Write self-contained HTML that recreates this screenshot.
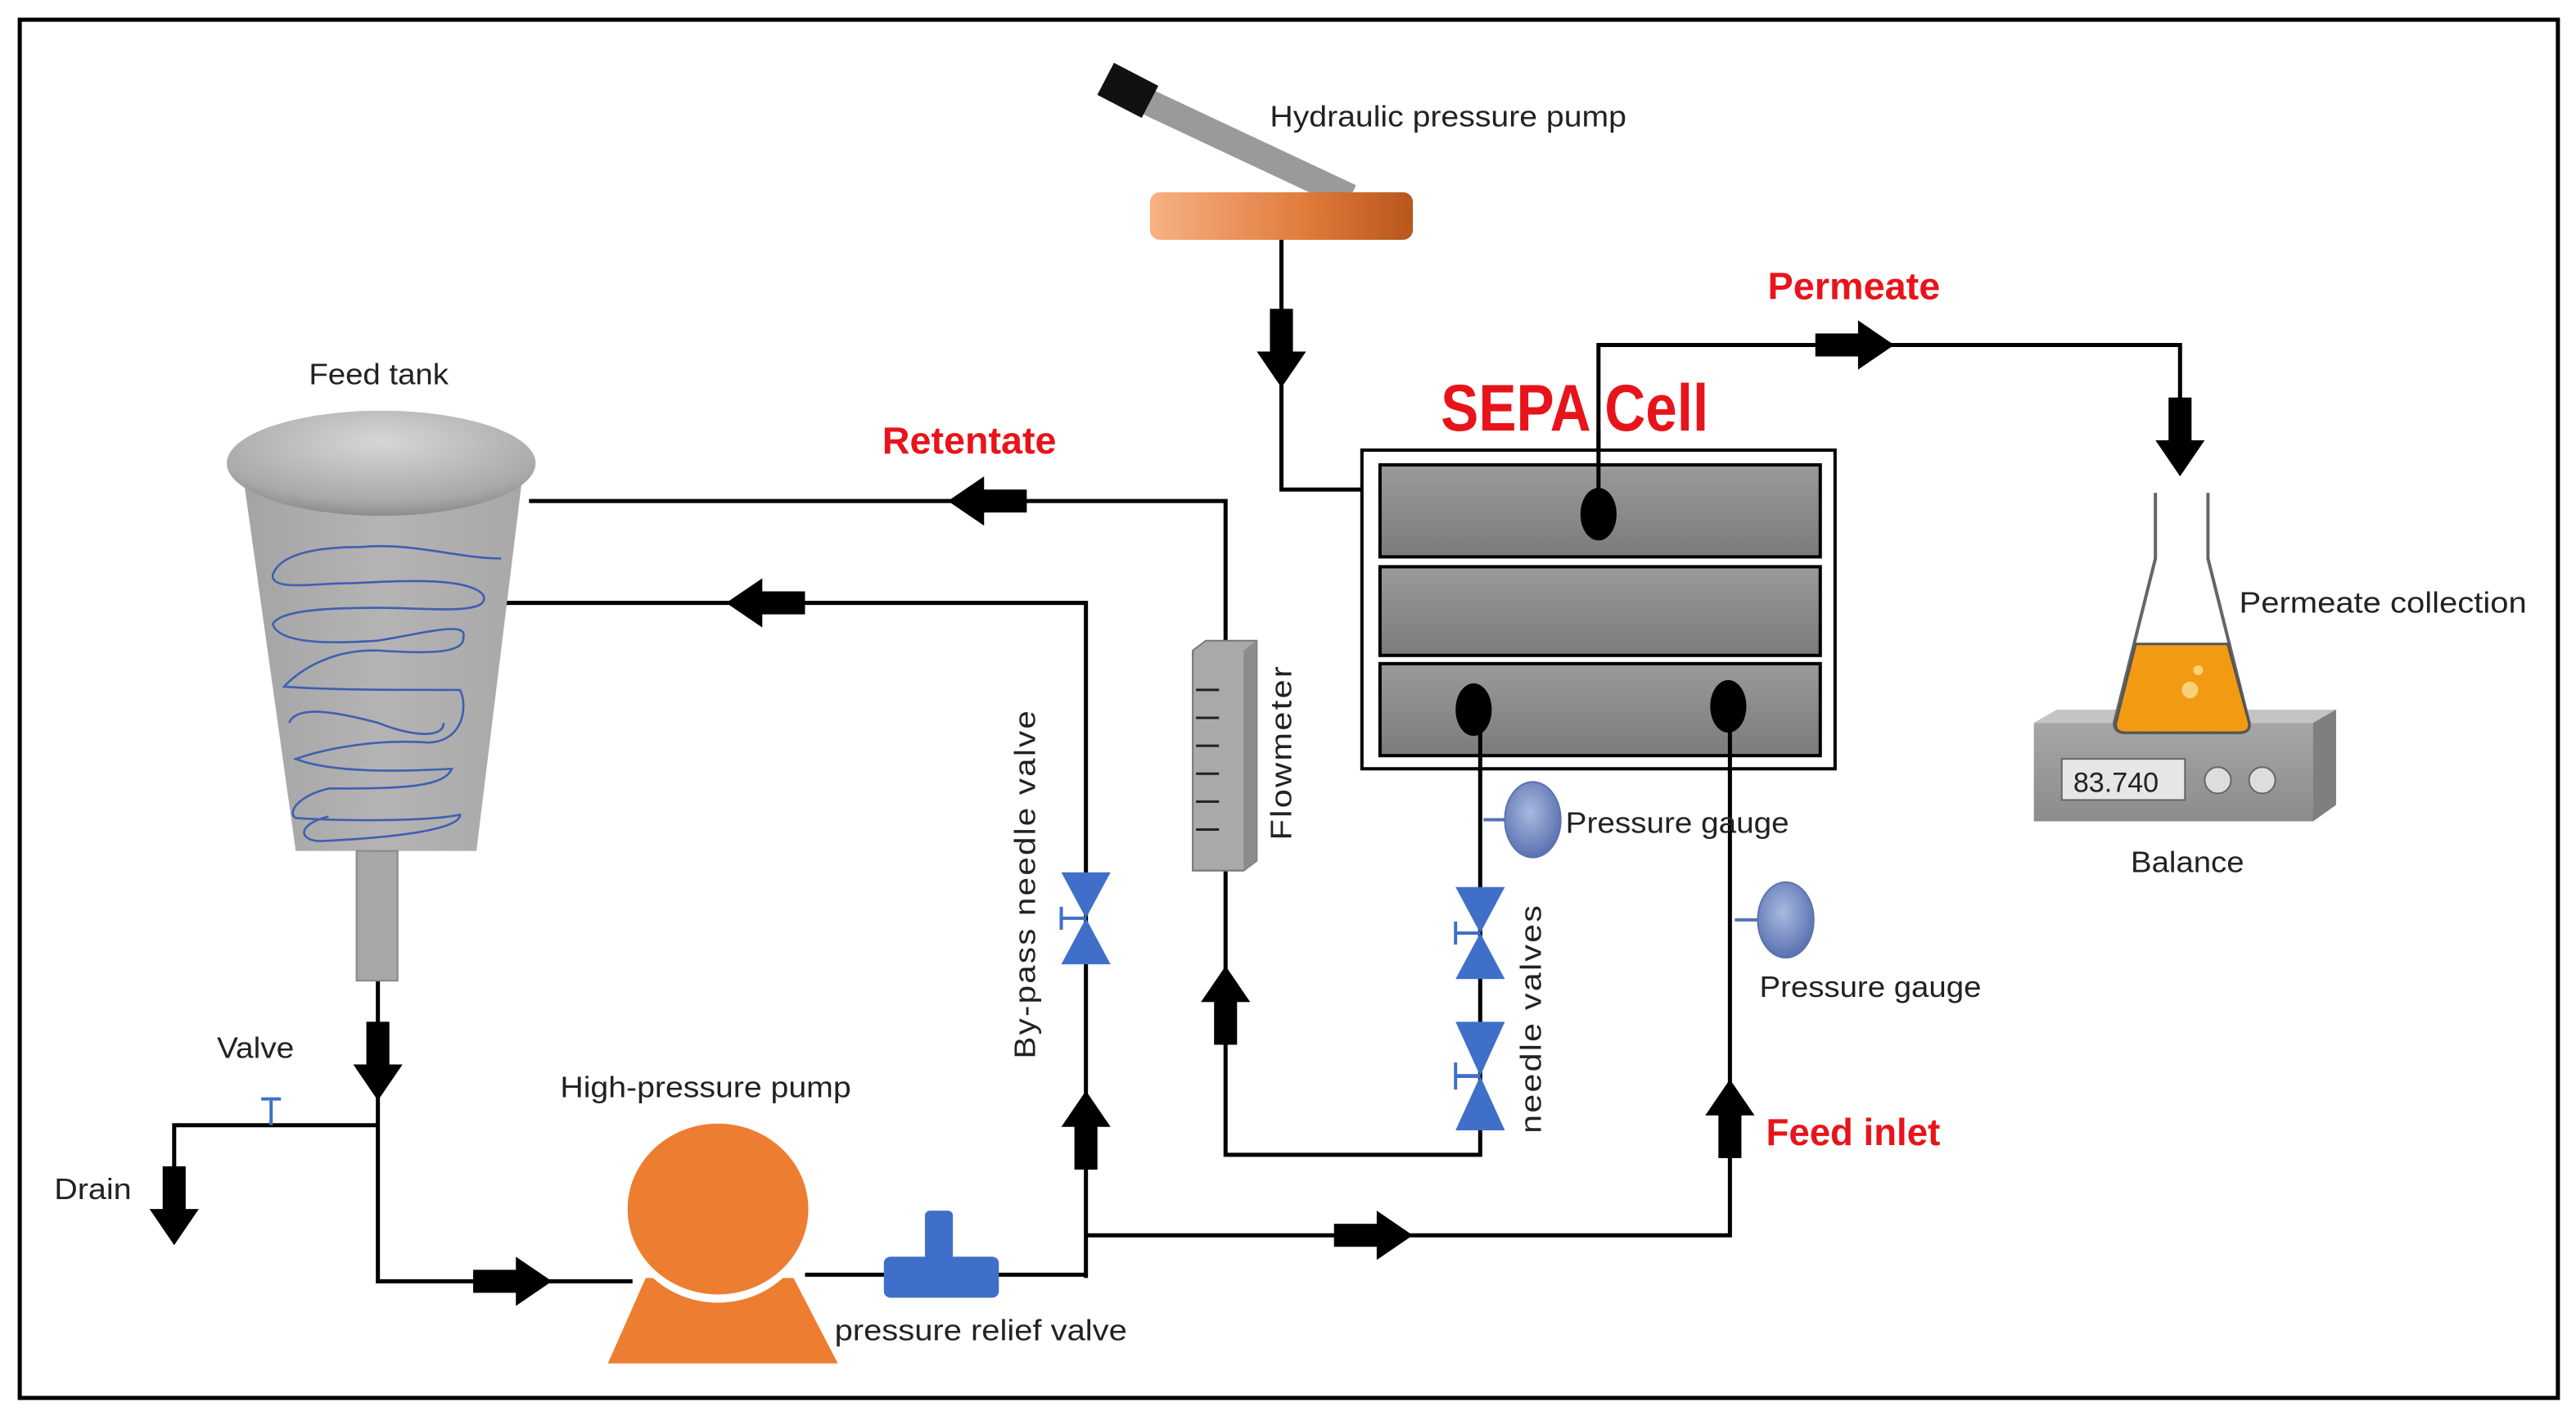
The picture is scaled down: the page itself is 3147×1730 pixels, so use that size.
<!DOCTYPE html>
<html><head><style>
html,body{margin:0;padding:0;background:#fff;}
svg{display:block;}
text{font-family:"Liberation Sans",sans-serif;}
</style></head><body>
<svg width="3147" height="1730" viewBox="0 0 1568 862" xmlns="http://www.w3.org/2000/svg">
<defs>
<linearGradient id="cyl" x1="0" x2="1" y1="0" y2="0"><stop offset="0" stop-color="#f7b184"/><stop offset="0.6" stop-color="#e07a3a"/><stop offset="1" stop-color="#b8561d"/></linearGradient>
<linearGradient id="cell" x1="0" x2="0" y1="0" y2="1"><stop offset="0" stop-color="#9a9a9a"/><stop offset="1" stop-color="#7b7b7b"/></linearGradient>
<linearGradient id="tank" x1="0" x2="1" y1="0" y2="0"><stop offset="0" stop-color="#a4a4a4"/><stop offset="0.5" stop-color="#b4b4b4"/><stop offset="1" stop-color="#a8a8a8"/></linearGradient>
<radialGradient id="lid" cx="0.5" cy="0.3" r="0.7"><stop offset="0" stop-color="#d6d6d6"/><stop offset="0.8" stop-color="#a9a9a9"/><stop offset="1" stop-color="#8d8d8d"/></radialGradient>
<radialGradient id="gauge" cx="0.45" cy="0.4" r="0.6"><stop offset="0" stop-color="#a9b9e0"/><stop offset="1" stop-color="#5b72b0"/></radialGradient>
<linearGradient id="bal" x1="0" x2="0" y1="0" y2="1"><stop offset="0" stop-color="#a6a6a6"/><stop offset="1" stop-color="#8c8c8c"/></linearGradient>
<g id="ad"><rect x="-7" y="0" width="14" height="28" fill="#000"/><polygon points="-15,26 15,26 0,48" fill="#000"/></g>
<g id="bow"><polygon points="-15,0 15,0 0,28 15,56 -15,56 0,28" fill="#3f6fc9"/><line x1="-15" y1="28" x2="0" y2="28" stroke="#3f6fc9" stroke-width="2"/><line x1="-15" y1="21" x2="-15" y2="35" stroke="#3f6fc9" stroke-width="2"/></g>
</defs>
<rect x="0" y="0" width="1568" height="862" fill="#fff"/>
<rect x="12" y="12" width="1545" height="839" fill="none" stroke="#000" stroke-width="2.5"/>

<g stroke="#000" stroke-width="2.5" fill="none">
<polyline points="780,146 780,298 830,298"/>
<polyline points="973,313 973,210 1327,210 1327,250"/>
<polyline points="322,305 746,305 746,392"/>
<polyline points="307,367 661,367 661,778"/>
<polyline points="746,530 746,703 901,703 901,432"/>
<polyline points="661,752 1053,752 1053,430"/>
<polyline points="230,597 230,780 385,780"/>
<polyline points="230,685 106,685 106,712"/>
<line x1="490" y1="776" x2="661" y2="776"/>
</g>

<use href="#ad" transform="translate(780,188)"/>
<use href="#ad" transform="translate(1327,242)"/>
<use href="#ad" transform="translate(230,622)"/>
<use href="#ad" transform="translate(106,710)"/>
<use href="#ad" transform="translate(1105,210) rotate(-90)"/>
<use href="#ad" transform="translate(812,752) rotate(-90)"/>
<use href="#ad" transform="translate(288,780) rotate(-90)"/>
<use href="#ad" transform="translate(625,305) rotate(90)"/>
<use href="#ad" transform="translate(490,367) rotate(90)"/>
<use href="#ad" transform="translate(661,712) rotate(180)"/>
<use href="#ad" transform="translate(746,636) rotate(180)"/>
<use href="#ad" transform="translate(1053,705) rotate(180)"/>

<line x1="690" y1="58" x2="822" y2="120" stroke="#9a9a9a" stroke-width="16"/>
<line x1="673" y1="48" x2="700" y2="62" stroke="#111" stroke-width="22"/>
<rect x="700" y="117" width="160" height="29" rx="6" fill="url(#cyl)"/>
<text x="773" y="77" font-size="18" fill="#222" textLength="217" lengthAdjust="spacingAndGlyphs">Hydraulic pressure pump</text>

<text x="877" y="262" font-size="40" font-weight="bold" fill="#e8141b" textLength="163" lengthAdjust="spacingAndGlyphs">SEPA Cell</text>
<rect x="829" y="274" width="288" height="194" fill="#fff" stroke="#000" stroke-width="2"/>
<rect x="840" y="283" width="268" height="56" fill="url(#cell)" stroke="#000" stroke-width="2"/>
<rect x="840" y="345" width="268" height="54" fill="url(#cell)" stroke="#000" stroke-width="2"/>
<rect x="840" y="404" width="268" height="56" fill="url(#cell)" stroke="#000" stroke-width="2"/>
<line x1="973" y1="262" x2="973" y2="300" stroke="#000" stroke-width="2.5"/>
<line x1="901" y1="432" x2="901" y2="470" stroke="#000" stroke-width="2.5"/>
<line x1="1053" y1="430" x2="1053" y2="470" stroke="#000" stroke-width="2.5"/>
<ellipse cx="973" cy="313" rx="11" ry="16" fill="#000"/>
<ellipse cx="897" cy="432" rx="11" ry="16" fill="#000"/>
<ellipse cx="1052" cy="430" rx="11" ry="16" fill="#000"/>
<text x="1076" y="182" font-size="23" font-weight="bold" fill="#e8141b" textLength="105" lengthAdjust="spacingAndGlyphs">Permeate</text>

<polygon points="1238,440 1420,440 1420,490 1408,500 1238,500" fill="url(#bal)"/>
<polygon points="1238,440 1252,432 1422,432 1420,440" fill="#c4c4c4"/>
<polygon points="1408,440 1422,432 1422,490 1408,500" fill="#7f7f7f"/>
<rect x="1255" y="462" width="75" height="25" fill="#e6e6e6" stroke="#666"/>
<text x="1262" y="482" font-size="17" fill="#222">83.740</text>
<circle cx="1350" cy="475" r="8" fill="#ddd" stroke="#666"/>
<circle cx="1377" cy="475" r="8" fill="#ddd" stroke="#666"/>
<path d="M1312,300 L1312,340 L1287,440 Q1287,446 1294,446 L1363,446 Q1370,446 1369,440 L1344,340 L1344,300" fill="#fff" stroke="#666" stroke-width="2"/>
<path d="M1300,392 L1356,392 L1369,440 Q1370,446 1363,446 L1294,446 Q1287,446 1288,440 Z" fill="#f29b12" stroke="#555" stroke-width="1.5"/>
<circle cx="1333" cy="420" r="5" fill="#fbd07a"/><circle cx="1338" cy="408" r="3" fill="#fbd07a"/>
<text x="1363" y="373" font-size="18" fill="#222" textLength="175" lengthAdjust="spacingAndGlyphs">Permeate collection</text>
<text x="1297" y="531" font-size="18" fill="#222" textLength="69" lengthAdjust="spacingAndGlyphs">Balance</text>

<polygon points="148,290 318,290 290,518 180,518" fill="url(#tank)"/>
<rect x="217" y="518" width="25" height="79" fill="#a7a7a7" stroke="#888"/>
<ellipse cx="232" cy="282" rx="94" ry="32" fill="url(#lid)"/>
<g fill="none" stroke="#3f5fb0" stroke-width="1.3">
<path d="M305,340 C280,340 250,330 220,333 C190,333 170,338 166,350 C165,360 190,355 215,355 C250,353 285,352 294,362 C300,375 260,370 230,370 C195,370 170,372 166,380 C170,392 200,392 230,390 C260,385 285,378 282,388 C283,398 260,398 230,396 C200,395 180,410 173,418 C200,420 240,420 280,420 C285,430 282,452 260,452 C230,450 200,455 180,462 C200,470 240,470 275,468 C270,480 240,480 200,480 C180,485 175,495 180,498 C210,500 260,500 280,496 C280,505 240,510 195,512 C182,512 180,502 200,497"/>
<path d="M176,440 C180,430 200,432 230,440 C250,448 270,450 270,440"/>
</g>
<text x="188" y="234" font-size="18" fill="#222" textLength="85" lengthAdjust="spacingAndGlyphs">Feed tank</text>
<text x="537" y="276" font-size="23" font-weight="bold" fill="#e8141b" textLength="106" lengthAdjust="spacingAndGlyphs">Retentate</text>

<use href="#bow" transform="translate(661,531)"/>
<text transform="translate(630,538) rotate(-90)" text-anchor="middle" font-size="18" letter-spacing="1" fill="#222" textLength="213" lengthAdjust="spacingAndGlyphs">By-pass needle valve</text>

<polygon points="726,396 734,390 765,390 765,524 757,530 726,530" fill="#a9a9a9" stroke="#777"/>
<polygon points="757,396 765,390 765,524 757,530" fill="#8c8c8c"/>
<g stroke="#222" stroke-width="1.5"><line x1="728" y1="420" x2="742" y2="420"/><line x1="728" y1="437" x2="742" y2="437"/><line x1="728" y1="454" x2="742" y2="454"/><line x1="728" y1="471" x2="742" y2="471"/><line x1="728" y1="488" x2="742" y2="488"/><line x1="728" y1="505" x2="742" y2="505"/></g>
<text transform="translate(786,458) rotate(-90)" text-anchor="middle" font-size="18" letter-spacing="1" fill="#222" textLength="107" lengthAdjust="spacingAndGlyphs">Flowmeter</text>

<use href="#bow" transform="translate(901,540)"/>
<use href="#bow" transform="translate(901,622) scale(1,1.18)"/>
<text transform="translate(938,620) rotate(-90)" text-anchor="middle" font-size="18" letter-spacing="1" fill="#222" textLength="140" lengthAdjust="spacingAndGlyphs">needle valves</text>

<line x1="903" y1="499" x2="916" y2="499" stroke="#5b72b0" stroke-width="2"/>
<ellipse cx="933" cy="499" rx="17" ry="23" fill="url(#gauge)" stroke="#5b72b0"/>
<text x="953" y="507" font-size="18" fill="#222" textLength="136" lengthAdjust="spacingAndGlyphs">Pressure gauge</text>
<line x1="1056" y1="560" x2="1070" y2="560" stroke="#5b72b0" stroke-width="2"/>
<ellipse cx="1087" cy="560" rx="17" ry="23" fill="url(#gauge)" stroke="#5b72b0"/>
<text x="1071" y="607" font-size="18" fill="#222" textLength="135" lengthAdjust="spacingAndGlyphs">Pressure gauge</text>
<text x="1075" y="697" font-size="23" font-weight="bold" fill="#e8141b" textLength="106" lengthAdjust="spacingAndGlyphs">Feed inlet</text>

<line x1="165" y1="670" x2="165" y2="685" stroke="#3f6fc9" stroke-width="2"/>
<line x1="159" y1="669" x2="171" y2="669" stroke="#3f6fc9" stroke-width="2"/>
<text x="132" y="644" font-size="18" fill="#222" textLength="47" lengthAdjust="spacingAndGlyphs">Valve</text>
<text x="33" y="730" font-size="18" fill="#222" textLength="47" lengthAdjust="spacingAndGlyphs">Drain</text>

<polygon points="393,778 483,778 510,830 370,830" fill="#ed7d31"/>
<ellipse cx="437" cy="737" rx="58" ry="56" fill="#fff"/>
<ellipse cx="437" cy="736" rx="55" ry="52" fill="#ed7d31"/>
<text x="341" y="668" font-size="18" fill="#222" textLength="177" lengthAdjust="spacingAndGlyphs">High-pressure pump</text>
<rect x="538" y="765" width="70" height="25" rx="4" fill="#3f6fc9"/>
<rect x="563" y="737" width="17" height="30" rx="3" fill="#3f6fc9"/>
<text x="508" y="816" font-size="18" fill="#222" textLength="178" lengthAdjust="spacingAndGlyphs">pressure relief valve</text>
</svg>
</body></html>
